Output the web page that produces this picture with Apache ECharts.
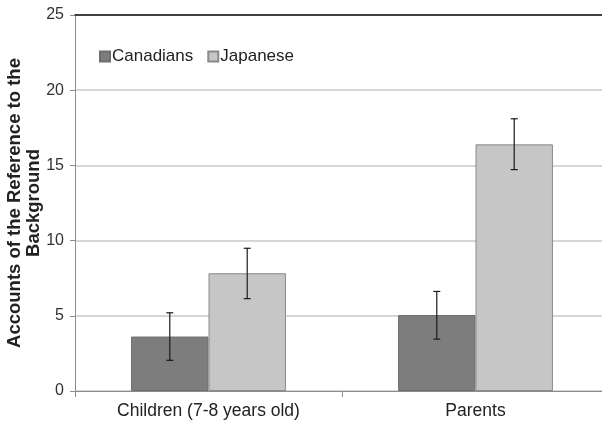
<!DOCTYPE html>
<html>
<head>
<meta charset="utf-8">
<script src="https://cdn.jsdelivr.net/npm/echarts@6/dist/echarts.min.js"></script>
<style>
  html, body { margin: 0; padding: 0; background: #fff; }
  #chart { width: 602px; height: 426px; }
</style>
</head>
<body>
<div id="chart"></div>
<script>
const categories = ['Children (7-8 years old)', 'Parents'];
const yTicks = [0, 5, 10, 15, 20, 25];

const canadians = [3.62, 5.05];
const canadiansLow = [2.04, 3.45];
const canadiansHigh = [5.2, 6.62];

const japanese = [7.83, 16.4];
const japaneseLow = [6.14, 14.72];
const japaneseHigh = [9.49, 18.1];

const catGap = 0.42;

// error bar drawn over a grouped bar; side -1 = left bar, +1 = right bar
function errorBar(side) {
    return function (params, api) {
        const cat = api.value(0);
        const top = api.coord([cat, api.value(2)]);
        const bottom = api.coord([cat, api.value(1)]);
        const band = api.size([1, 0])[0];
        const x = top[0] + side * band * (1 - catGap) / 4;
        const cap = 3.5;
        const style = { stroke: '#1a1a1a', lineWidth: 1.2 };
        return {
            type: 'group',
            children: [
                { type: 'line', shape: { x1: x, y1: top[1], x2: x, y2: bottom[1] }, style: style },
                { type: 'line', shape: { x1: x - cap, y1: top[1], x2: x + cap, y2: top[1] }, style: style },
                { type: 'line', shape: { x1: x - cap, y1: bottom[1], x2: x + cap, y2: bottom[1] }, style: style }
            ]
        };
    };
}

const chart = echarts.init(document.getElementById('chart'));

const option = {
    animation: false,
    textStyle: { fontFamily: 'Liberation Sans, Arial, sans-serif' },
    legend: {
        left: 94,
        top: 43,
        itemWidth: 10,
        itemHeight: 10,
        itemGap: 14,
        icon: 'rect',
        textStyle: { fontSize: 17, color: '#222', padding: [0, 0, 0, -3] },
        data: ['Canadians', 'Japanese']
    },
    grid: { left: 75, right: -7, top: 15, bottom: 35, outerBoundsMode: 'none' },
    xAxis: [
        {
            type: 'category',
            data: categories,
            axisLine: { lineStyle: { color: '#8c8c8c', width: 1 } },
            axisTick: { show: true, length: 6, lineStyle: { color: '#8c8c8c' } },
            axisLabel: { fontSize: 17.5, color: '#222', margin: 11 }
        },
        {
            type: 'category',
            position: 'top',
            data: categories,
            axisLine: { lineStyle: { color: '#111', width: 1.5 } },
            axisTick: { show: false },
            axisLabel: { show: false }
        }
    ],
    yAxis: {
        type: 'value',
        min: yTicks[0],
        max: yTicks[yTicks.length - 1],
        interval: 5,
        name: 'Accounts of the Reference to the\nBackground',
        nameLocation: 'middle',
        nameGap: 32,
        nameMoveOverlap: false,
        nameTextStyle: { fontSize: 18.5, fontWeight: 'bold', color: '#222', lineHeight: 19 },
        axisLine: { show: true, lineStyle: { color: '#8c8c8c' } },
        axisTick: { show: true, length: 5, lineStyle: { color: '#8c8c8c' } },
        axisLabel: { fontSize: 16, color: '#333', margin: 11 },
        splitLine: { lineStyle: { color: '#c8c8c8', width: 1.5 } }
    },
    series: [
        {
            name: 'Canadians',
            type: 'bar',
            data: canadians,
            barGap: '0%',
            barCategoryGap: (catGap * 100) + '%',
            itemStyle: { color: '#7d7d7d', borderColor: '#6e6e6e', borderWidth: 1 }
        },
        {
            name: 'Japanese',
            type: 'bar',
            data: japanese,
            itemStyle: { color: '#c5c6c5', borderColor: '#8a8a8a', borderWidth: 1 }
        },
        {
            type: 'custom',
            renderItem: errorBar(-1),
            data: categories.map((c, i) => [i, canadiansLow[i], canadiansHigh[i]]),
            z: 10
        },
        {
            type: 'custom',
            renderItem: errorBar(1),
            data: categories.map((c, i) => [i, japaneseLow[i], japaneseHigh[i]]),
            z: 10
        }
    ]
};

chart.setOption(option);
</script>
</body>
</html>
